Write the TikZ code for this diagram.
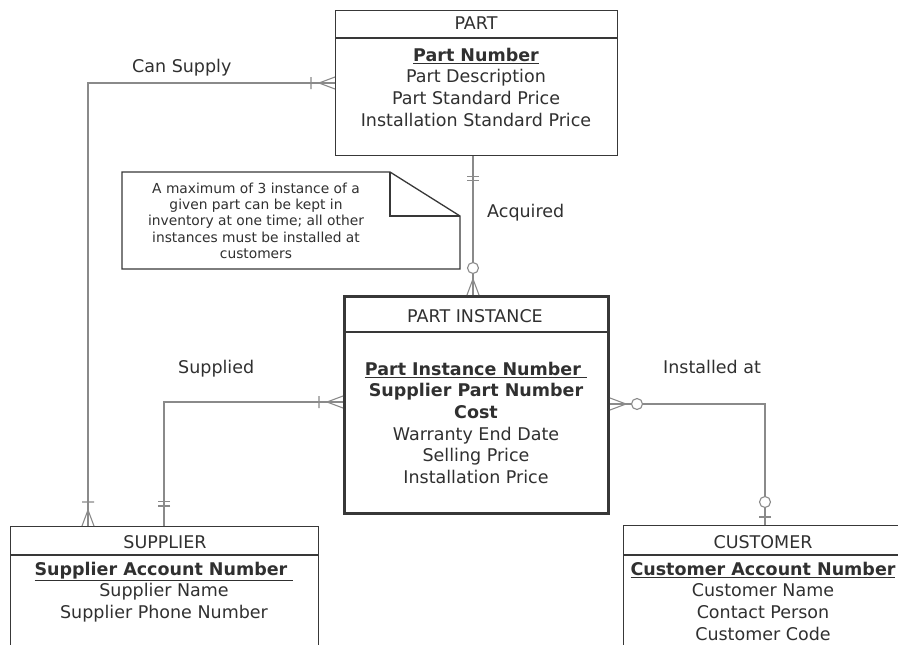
\documentclass[tikz,border=0pt]{standalone}
\usepackage{fontspec}
\setmainfont{DejaVu Sans}
\definecolor{boxc}{HTML}{383838}
\definecolor{linec}{HTML}{8A8A8A}
\definecolor{txt}{HTML}{303030}
\begin{document}
\begin{tikzpicture}[x=1pt,y=-1pt,
  entity/.style={draw=boxc, line width=1.4pt, fill=white, inner sep=0pt, anchor=north west},
  keyentity/.style={entity, line width=3pt},
  divider/.style={draw=boxc, line width=1.3pt},
  conn/.style={draw=linec, line width=1.1pt},
  title/.style={text=txt, inner sep=0pt, anchor=base, font=\fontsize{17.5}{21.7}\selectfont},
  attrs/.style={text=txt, inner sep=0pt, anchor=north, align=center, font=\fontsize{17.5}{21.7}\selectfont},
  rel/.style={text=txt, inner sep=0pt, anchor=base west, font=\fontsize{17.5}{21.7}\selectfont},
  notetext/.style={text=txt, inner sep=0pt, anchor=north, align=center, font=\fontsize{13.8}{16.3}\selectfont},
  manyone/.pic={\draw[conn] (0pt,-6pt) -- (16pt,0pt) -- (0pt,6pt) (24pt,-6pt) -- (24pt,6pt);},
  manyzero/.pic={\draw[conn] (0pt,-6pt) -- (16pt,0pt) -- (0pt,6pt);
                 \draw[conn, fill=white] (27pt,0pt) circle[radius=5.5pt];},
  oneone/.pic={\draw[conn] (20pt,-6pt) -- (20pt,6pt) (24.5pt,-6pt) -- (24.5pt,6pt);},
  zeroone/.pic={\draw[conn] (8pt,-6pt) -- (8pt,6pt);
                \draw[conn, fill=white] (23pt,0pt) circle[radius=5.5pt];}
]
\useasboundingbox[fill=white] (0,0) rectangle (898,645);

% entity boxes
\node[entity, minimum width=282pt, minimum height=145pt] (part) at (335,10) {};
\node[keyentity, minimum width=264pt, minimum height=217pt] (pinst) at (343,295) {};
\node[entity, minimum width=308pt, minimum height=140pt] (supplier) at (10,526) {};
\node[entity, minimum width=280pt, minimum height=140pt] (customer) at (623,525) {};

% header dividers
\draw[divider] (part.west |- 0,38) -- (part.east |- 0,38);
\draw[divider] (pinst.west |- 0,332) -- (pinst.east |- 0,332);
\draw[divider] (supplier.west |- 0,555) -- (supplier.east |- 0,555);
\draw[divider] (customer.west |- 0,555) -- (customer.east |- 0,555);

% titles
\node[title] (part-t) at (476,30) {PART};
\node[title] (pinst-t) at (475,322) {PART INSTANCE};
\node[title] (supplier-t) at (165,548) {SUPPLIER};
\node[title] (customer-t) at (763,548) {CUSTOMER};

% attributes
\node[attrs] (part-a) at (476,47.7) {\textbf{\underline{Part Number}}\\Part Description\\Part Standard Price\\Installation Standard Price};
\node[attrs] (pinst-a) at (476,361.7) {\textbf{\underline{Part Instance Number\ }}\\\textbf{Supplier Part Number}\\\textbf{Cost}\\Warranty End Date\\Selling Price\\Installation Price};
\node[attrs] (supplier-a) at (164,561.7) {\textbf{\underline{Supplier Account Number\ }}\\Supplier Name\\Supplier Phone Number};
\node[attrs] (customer-a) at (763,561.7) {\textbf{\underline{Customer Account Number}}\\Customer Name\\Contact Person\\Customer Code};

% note with folded corner
\draw[draw=boxc, line width=1.3pt, fill=white] (122,172) -- (390,172) -- (460,216) -- (460,269) -- (122,269) -- cycle;
\draw[draw=boxc, line width=1.3pt] (390,172) -- (390,216) -- (460,216);
\node[notetext] (note) at (256,182.5) {A maximum of 3 instance of a\\given part can be kept in\\inventory at one time; all other\\instances must be installed at\\customers};

% relationship routes
\coordinate (csbend) at (88,83);
\coordinate (spbend) at (164,402);
\coordinate (acq) at (473,0);
\coordinate (inbend) at (765,404);

\draw[conn] (part.west |- csbend) -- (csbend) -- (csbend |- supplier.north);
\draw[conn] (pinst.west |- spbend) -- (spbend) -- (spbend |- supplier.north);
\draw[conn] (part.south -| acq) -- (pinst.north -| acq);
\draw[conn] (pinst.east |- inbend) -- (inbend) -- (inbend |- customer.north);

% cardinality marks
\pic[rotate=180] at (part.west |- csbend) {manyone};
\pic[rotate=90] at (csbend |- supplier.north) {manyone};
\pic[rotate=180] at (pinst.west |- spbend) {manyone};
\pic[rotate=90] at (spbend |- supplier.north) {oneone};
\pic[rotate=-90] at (part.south -| acq) {oneone};
\pic[rotate=90] at (pinst.north -| acq) {manyzero};
\pic[rotate=0] at (pinst.east |- inbend) {manyzero};
\pic[rotate=90] at (inbend |- customer.north) {zeroone};

% relationship names
\node[rel] (l-can) at (132,72) {Can Supply};
\node[rel] (l-acq) at (487,217) {Acquired};
\node[rel] (l-sup) at (178,373) {Supplied};
\node[rel] (l-ins) at (663,373) {Installed at};
\end{tikzpicture}
\end{document}
